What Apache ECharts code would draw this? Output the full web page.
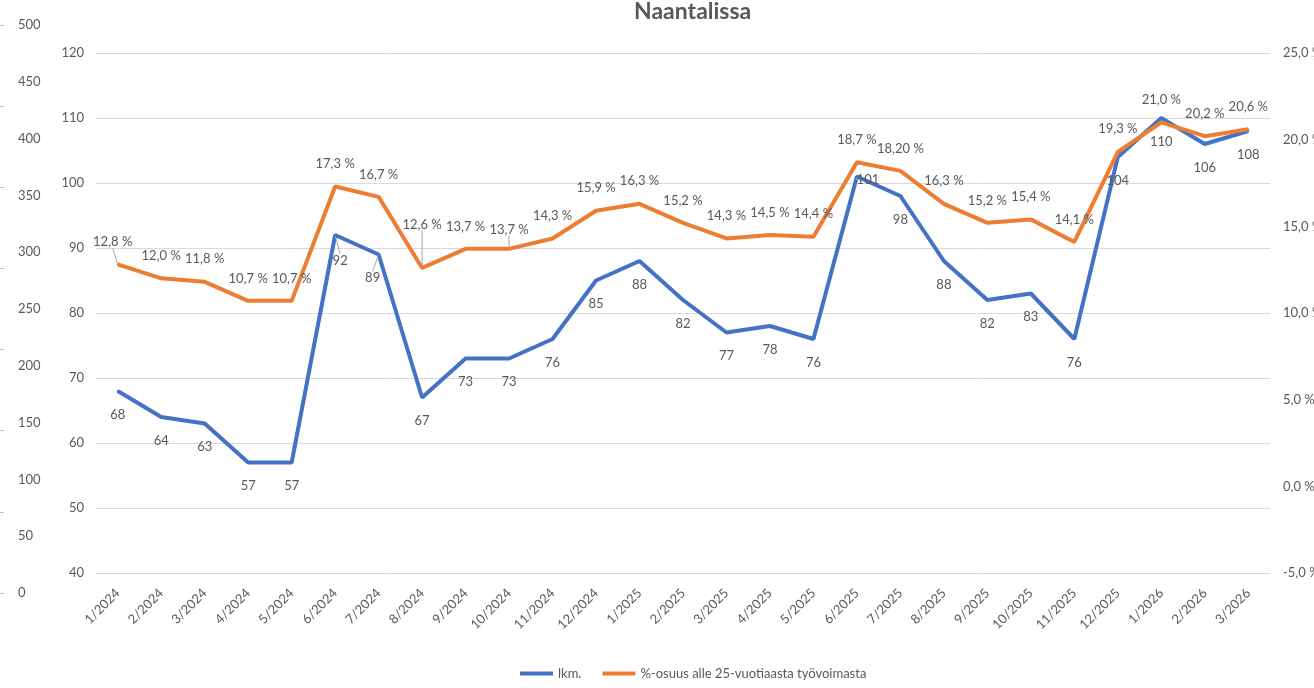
<!DOCTYPE html>
<html>
<head>
<meta charset="utf-8">
<script src="https://cdn.jsdelivr.net/npm/echarts@6/dist/echarts.min.js"></script>
<style>
html, body { margin: 0; padding: 0; background: #fff; }
#chart { width: 1314px; height: 688px; }
</style>
</head>
<body>
<div id="chart"></div>
<script>
'use strict';

const MONTHS = ['1/2024', '2/2024', '3/2024', '4/2024', '5/2024', '6/2024', '7/2024', '8/2024', '9/2024',
	'10/2024', '11/2024', '12/2024', '1/2025', '2/2025', '3/2025', '4/2025', '5/2025', '6/2025', '7/2025',
	'8/2025', '9/2025', '10/2025', '11/2025', '12/2025', '1/2026', '2/2026', '3/2026'];

// lkm.
const COUNT = [68, 64, 63, 57, 57, 92, 89, 67, 73, 73, 76, 85, 88, 82, 77, 78, 76, 101, 98, 88, 82, 83, 76, 104, 110, 106, 108];

// %-osuus alle 25-vuotiaasta työvoimasta
const SHARE = [12.8, 12.0, 11.8, 10.7, 10.7, 17.3, 16.7, 12.6, 13.7, 13.7, 14.3, 15.9, 16.3, 15.2, 14.3, 14.5, 14.4,
	18.7, 18.2, 16.3, 15.2, 15.4, 14.1, 19.3, 21.0, 20.2, 20.6];

// label text that differs from the plain format in the original
const SHARE_LABEL_OVERRIDE = { 18: '18,20 %' };

const NAME_COUNT = 'lkm.';
const NAME_SHARE = '%-osuus alle 25-vuotiaasta työvoimasta';

// leftover axis on the far left of the original picture
const GHOST_TICKS = [0, 50, 100, 150, 200, 250, 300, 350, 400, 450, 500];

const TXT = '#595959';
const GRID_C = '#d9d9d9';
const FONT = "Lato, 'Open Sans', sans-serif";
const FS = 13;

// label nudges (dx, dy) like the hand-moved labels in the original
const COUNT_NUDGE = { 5: { dx: 5, dy: 2 }, 6: { dx: -6, dy: 0 }, 17: { dx: 11, dy: -20 } };
const SHARE_NUDGE = { 0: { dx: -5, dy: 0 }, 7: { dx: 0, dy: -21 }, 9: { dx: 0, dy: 3 } };

const fmtPct = v => v.toFixed(1).replace('.', ',') + ' %';

const withLeader = (arr, nudge) => arr.map((v, i) => nudge[i] ? {
	value: v,
	labelLine: { show: true, lineStyle: { color: '#a6a6a6', width: 1 } }
} : v);

const chart = echarts.init(document.getElementById('chart'));

const option = {
	animation: false,
	textStyle: { fontFamily: FONT },
	title: {
		text: 'Naantalissa',
		left: 629,
		top: -5,
		textStyle: { fontSize: 23, fontWeight: 'bold', color: TXT, fontFamily: FONT }
	},
	legend: {
		data: [NAME_COUNT, NAME_SHARE],
		left: 515,
		top: 662,
		icon: 'rect',
		itemWidth: 33,
		itemHeight: 4,
		itemGap: 21,
		textStyle: { color: TXT, fontSize: FS, fontFamily: FONT }
	},
	grid: [
		{ left: 96, right: 44, top: 53, bottom: 115, outerBoundsMode: 'none' },
		{ left: 40, width: 10, top: 25, bottom: 95, outerBoundsMode: 'none' },
		{ left: 0, width: 10, top: 25, bottom: 95, outerBoundsMode: 'none' }
	],
	xAxis: [{
		type: 'category',
		gridIndex: 0,
		data: MONTHS,
		boundaryGap: true,
		axisLine: { show: false },
		axisTick: { show: false },
		axisLabel: { rotate: 45, color: TXT, fontSize: FS, margin: 18, fontFamily: FONT, interval: 0 }
	}, {
		type: 'value', gridIndex: 1, show: false
	}, {
		type: 'value', gridIndex: 2, show: false
	}],
	yAxis: [{
		type: 'value',
		gridIndex: 0,
		min: 40,
		max: 120,
		interval: 10,
		axisLine: { show: false },
		axisTick: { show: false },
		axisLabel: { color: TXT, fontSize: FS, margin: 12, fontFamily: FONT },
		splitLine: { lineStyle: { color: GRID_C, width: 1 } }
	}, {
		type: 'value',
		gridIndex: 0,
		position: 'right',
		min: -5,
		max: 25,
		interval: 5,
		axisLine: { show: false },
		axisTick: { show: false },
		splitLine: { show: false },
		axisLabel: { color: TXT, fontSize: FS, margin: 13, fontFamily: FONT, formatter: fmtPct }
	}, {
		type: 'value',
		gridIndex: 1,
		min: GHOST_TICKS[0],
		max: GHOST_TICKS[GHOST_TICKS.length - 1],
		interval: 50,
		axisLine: { show: false },
		axisTick: { show: false },
		splitLine: { show: false },
		axisLabel: { color: TXT, fontSize: FS, margin: 22, align: 'left', fontFamily: FONT }
	}, {
		type: 'value',
		gridIndex: 2,
		min: 0,
		max: 7,
		interval: 1,
		axisLine: { show: false },
		axisTick: { show: true, inside: true, length: 4, lineStyle: { color: '#bfbfbf' } },
		splitLine: { show: false },
		axisLabel: { show: false }
	}],
	series: [{
		name: NAME_COUNT,
		type: 'line',
		xAxisIndex: 0,
		yAxisIndex: 0,
		data: withLeader(COUNT, COUNT_NUDGE),
		symbol: 'circle',
		symbolSize: 2,
		lineStyle: { color: '#4472C4', width: 4 },
		itemStyle: { color: '#4472C4' },
		label: { show: true, position: 'bottom', distance: 16, color: TXT, fontSize: FS, fontFamily: FONT },
		labelLayout: p => COUNT_NUDGE[p.dataIndex] || {},
		z: 3
	}, {
		name: NAME_SHARE,
		type: 'line',
		xAxisIndex: 0,
		yAxisIndex: 1,
		data: withLeader(SHARE, SHARE_NUDGE),
		symbol: 'circle',
		symbolSize: 2,
		lineStyle: { color: '#ED7D31', width: 4 },
		itemStyle: { color: '#ED7D31' },
		label: {
			show: true,
			position: 'top',
			distance: 15,
			color: TXT,
			fontSize: FS,
			fontFamily: FONT,
			formatter: p => SHARE_LABEL_OVERRIDE[p.dataIndex] || fmtPct(SHARE[p.dataIndex])
		},
		labelLayout: p => SHARE_NUDGE[p.dataIndex] || {},
		z: 4
	}]
};

chart.setOption(option);
</script>
</body>
</html>
